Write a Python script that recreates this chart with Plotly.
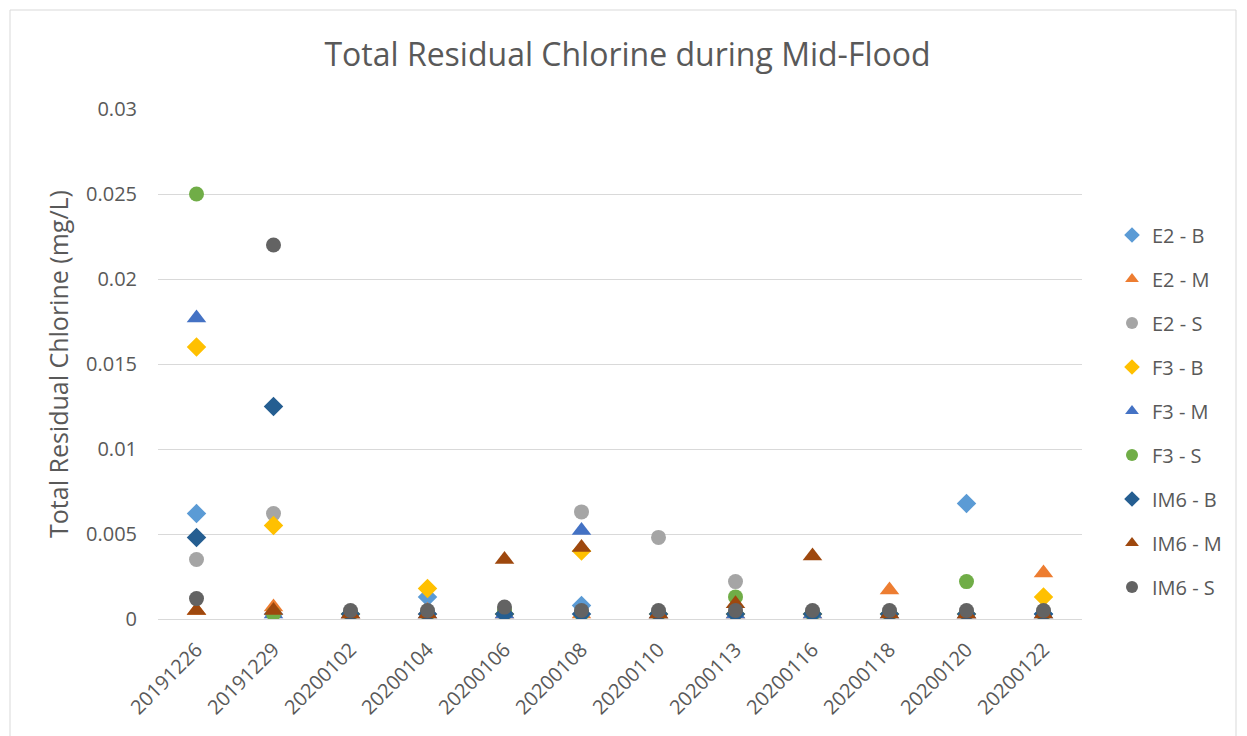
import plotly.graph_objects as go

# fechas de muestreo (eje x categórico)
dates = ['20191226', '20191229', '20200102', '20200104', '20200106', '20200108',
         '20200110', '20200113', '20200116', '20200118', '20200120', '20200122']

# valores (mg/L)
e2_b = [0.0062, 0.0003, 0.0003, 0.0013, 0.0003, 0.0008, 0.0003, 0.0003, 0.0003, 0.0003, 0.0068, 0.0003]
e2_m = [0.0005, 0.0007, 0.0003, 0.0005, 0.0003, 0.0003, 0.0003, 0.0003, 0.0003, 0.0017, 0.0003, 0.0027]
e2_s = [0.0035, 0.0062, 0.0003, 0.0003, 0.0003, 0.0063, 0.0048, 0.0022, 0.0003, 0.0003, 0.0003, 0.0003]
f3_b = [0.016, 0.0055, 0.0003, 0.0018, 0.0003, 0.004, 0.0003, 0.0003, 0.0003, 0.0003, 0.0003, 0.0013]
f3_m = [0.0177, 0.0003, 0.0003, 0.0003, 0.0003, 0.0052, 0.0003, 0.0003, 0.0003, 0.0003, 0.0003, 0.0003]
f3_s = [0.025, 0.0003, 0.0003, 0.0003, 0.0005, 0.0003, 0.0003, 0.0013, 0.0003, 0.0003, 0.0022, 0.0003]
im6_b = [0.0048, 0.0125, 0.0003, 0.0003, 0.0003, 0.0003, 0.0003, 0.0003, 0.0003, 0.0003, 0.0003, 0.0003]
im6_m = [0.0005, 0.0005, 0.0003, 0.0003, 0.0035, 0.0042, 0.0003, 0.0009, 0.0037, 0.0003, 0.0003, 0.0003]
im6_s = [0.0012, 0.022, 0.0005, 0.0005, 0.0007, 0.0005, 0.0005, 0.0005, 0.0005, 0.0005, 0.0005, 0.0005]

# marcas del eje y
y_ticks = [0, 0.005, 0.01, 0.015, 0.02, 0.025, 0.03]
y_tick_text = ['0', '0.005', '0.01', '0.015', '0.02', '0.025', '0.03']

series = [
    ('E2 - B', e2_b, '#5B9BD5', 'diamond'),
    ('E2 - M', e2_m, '#ED7D31', 'triangle-up'),
    ('E2 - S', e2_s, '#A5A5A5', 'circle'),
    ('F3 - B', f3_b, '#FFC000', 'diamond'),
    ('F3 - M', f3_m, '#4472C4', 'triangle-up'),
    ('F3 - S', f3_s, '#70AD47', 'circle'),
    ('IM6 - B', im6_b, '#255E91', 'diamond'),
    ('IM6 - M', im6_m, '#9E480E', 'triangle-up'),
    ('IM6 - S', im6_s, '#636363', 'circle'),
]

FONT = '"Open Sans", sans-serif'
GREY = '#595959'
SIZES = {'diamond': 15, 'triangle-up': 17, 'circle': 15}

fig = go.Figure()
for name, vals, color, symbol in series:
    fig.add_trace(go.Scatter(
        x=dates,
        y=vals,
        mode='markers',
        name=name,
        legendgroup=name,
        marker=dict(color=color, symbol=symbol, size=SIZES[symbol], line=dict(width=0))
    ))

# la página deja 8px de margen del body: el lienzo se reduce en consecuencia
fig.update_layout(
    width=1239,
    height=728,
    paper_bgcolor='white',
    plot_bgcolor='white',
    font=dict(family=FONT, color=GREY, size=20),
    title=dict(text='Total Residual Chlorine during Mid-Flood', x=0.5, xanchor='center',
               y=1 - 47 / 728, yanchor='middle', font=dict(size=32, color=GREY)),
    margin=dict(l=150, r=165, t=101, b=117),
    xaxis=dict(
        type='category',
        tickangle=-45,
        showgrid=False,
        showline=False,
        ticks='',
        ticklabelstandoff=14,
        tickfont=dict(size=20, color=GREY),
        range=[-0.5, len(dates) - 0.5]
    ),
    yaxis=dict(
        range=[0, 0.03],
        tickvals=y_ticks,
        ticktext=y_tick_text,
        showgrid=True,
        gridcolor='#D9D9D9',
        gridwidth=1,
        zeroline=True,
        zerolinecolor='#D9D9D9',
        zerolinewidth=1,
        showline=False,
        ticks='',
        ticklabelstandoff=20,
        tickfont=dict(size=20, color=GREY),
        title=dict(text='Total Residual Chlorine (mg/L)', font=dict(size=25, color=GREY), standoff=10)
    ),
    legend=dict(
        x=1 + 30 / 924, xanchor='left',
        y=(619 - 411) / 510, yanchor='middle',
        font=dict(size=20, color=GREY),
        tracegroupgap=15,
        itemsizing='constant'
    ),
    # borde exterior del área del gráfico
    shapes=[dict(type='rect', xref='paper', yref='paper',
                 x0=-148 / 924, x1=1078 / 924, y0=-0.25, y1=609 / 510,
                 line=dict(color='#D9D9D9', width=1))]
)

fig.write_html('out.html')
